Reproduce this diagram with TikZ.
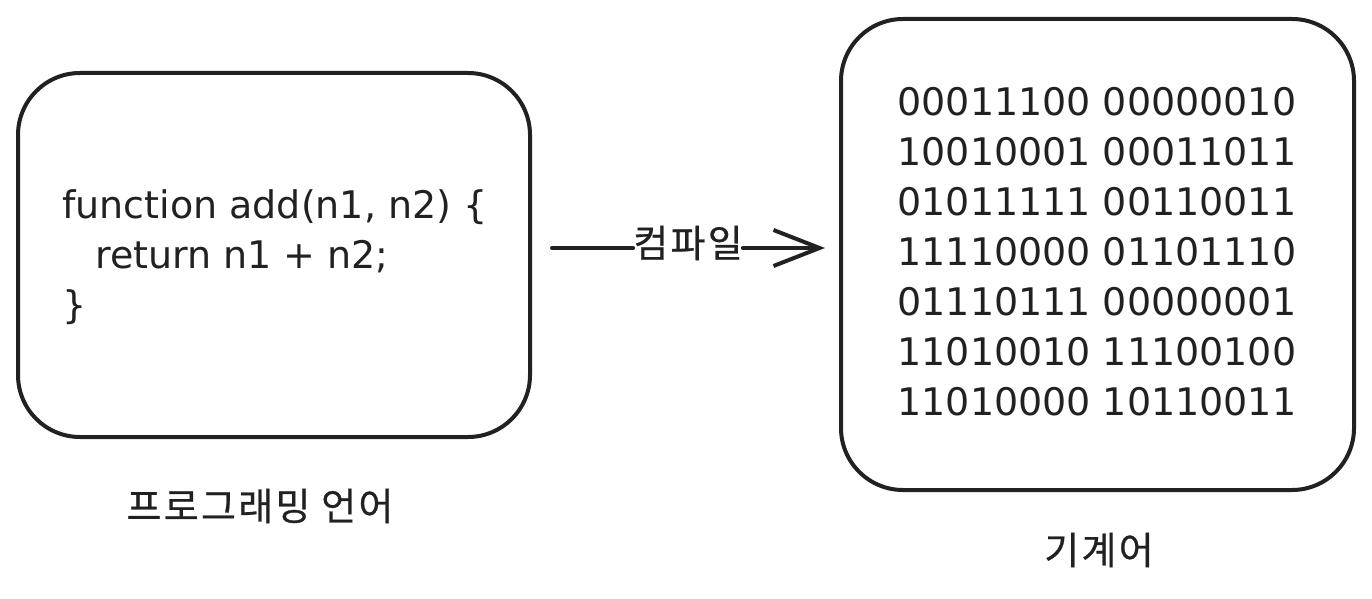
\documentclass[tikz,border=0pt]{standalone}
\usepackage{fontspec}
\setmainfont{DejaVu Sans}
\newfontfamily\kr[LetterSpace=6,FakeBold=0.6]{Noto Sans CJK KR}
\usetikzlibrary{arrows.meta}
\begin{document}
\begin{tikzpicture}[x=1pt,y=-1pt,
  box/.style={draw=black!87,line width=4pt,rounded corners=62pt},
  code/.style={font=\fontsize{38}{50}\selectfont,text=black!87,align=left,anchor=north west,inner sep=0pt},
  bin/.style={font=\fontsize{38}{50}\selectfont,text=black!87,align=center,anchor=north,inner sep=0pt},
  lab/.style={font=\kr\fontsize{38}{40}\selectfont,text=black!87,inner sep=0pt},
  conn/.style={draw=black!87,line width=4pt,line cap=round}]
\useasboundingbox (0,0) rectangle (1372,599);
\fill[white] (0,0) rectangle (1372,599);
\draw[box] (18,73) rectangle (530,437);
\draw[box] (841,19) rectangle (1354,490);
\node[code] (src) at (62,189) {function add(n1, n2) \{\\\hspace*{33pt}return n1 + n2;\\\}};
\node[bin] (mc) at (1097,87) {00011100 00000010\\10010001 00011011\\01011111 00110011\\11110000 01101110\\01110111 00000001\\11010010 11100100\\11010000 10110011};
\node[lab] (l1) at (260,506) {프로그래밍 언어};
\node[lab] (l2) at (1099,550) {기계어};
\node[lab] (cmp) at (688,243) {컴파일};
\coordinate (s) at (552,248);
\coordinate (t) at (825,248);
\draw[conn] (s) -- (s -| cmp.west);
\draw[conn,-{Straight Barb[length=46pt,width=36pt,line width=4pt]}] (t -| cmp.east) -- (t);
\end{tikzpicture}
\end{document}
